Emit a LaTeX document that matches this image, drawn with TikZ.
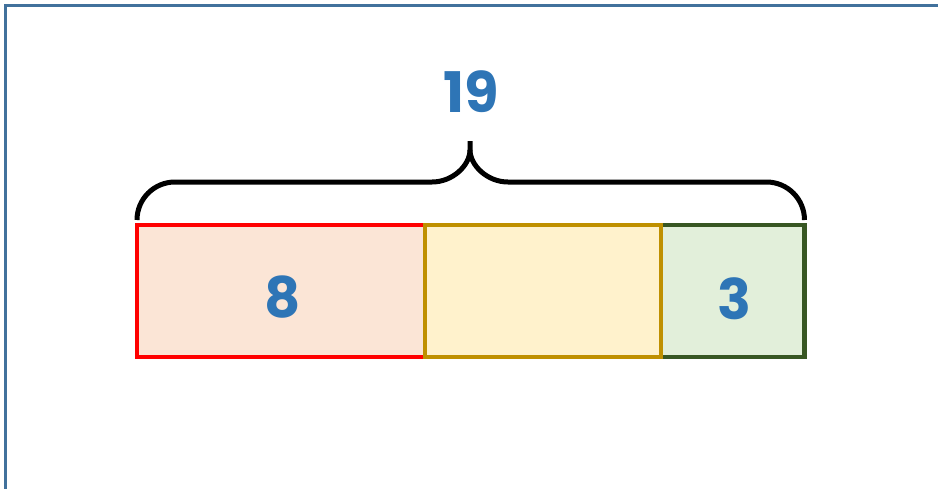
\documentclass[tikz,border=0pt]{standalone}
\usepackage{fontspec}
\newfontfamily\numfont{Poppins}
\definecolor{frameblue}{HTML}{41719C}
\definecolor{numblue}{HTML}{2E75B6}
\definecolor{redline}{HTML}{FF0000}
\definecolor{redfill}{HTML}{FBE5D6}
\definecolor{goldline}{HTML}{BF9000}
\definecolor{goldfill}{HTML}{FFF2CC}
\definecolor{greenline}{HTML}{385723}
\definecolor{greenfill}{HTML}{E2EFDA}
\tikzset{
  part/.style={rectangle, inner sep=0pt, line width=4.6pt},
  num/.style={text=numblue, font=\numfont\bfseries\fontsize{56}{56}\selectfont, inner sep=0pt},
  bracebar/.style={line width=5pt, line cap=butt},
}
\begin{document}
\begin{tikzpicture}[x=1pt,y=-1pt]
\useasboundingbox (0,0) rectangle (938,488);
\draw[frameblue, line width=2.6pt] (5.5,500) -- (5.5,5.5) -- (950,5.5);
\node[part, draw=redline, fill=redfill, minimum width=288pt, minimum height=132pt] (red) at (281,291) {};
\node[part, draw=greenline, fill=greenfill, minimum width=143.5pt, minimum height=132pt] (green) at (732.75,291) {};
\node[part, draw=goldline, fill=goldfill, minimum width=236pt, minimum height=132pt] (gold) at (543,291) {};
\node[num] (eight) at (283,297) {8};
\node[num] (three) at (734,299) {3};
\node[num] (total) at (471,92) {19};
\coordinate (bl) at (137,220);
\coordinate (br) at (804.5,220);
\coordinate (tip) at (470,141);
\draw[bracebar] (bl) .. controls (137,199) and (154,182) .. (175,182) -- (432,182)
  .. controls (453,182) and (470,165) .. (470,150) -- (tip);
\draw[bracebar] (br) .. controls (804.5,199) and (787.5,182) .. (766.5,182) -- (508,182)
  .. controls (487,182) and (470,165) .. (470,150);
\end{tikzpicture}
\end{document}
